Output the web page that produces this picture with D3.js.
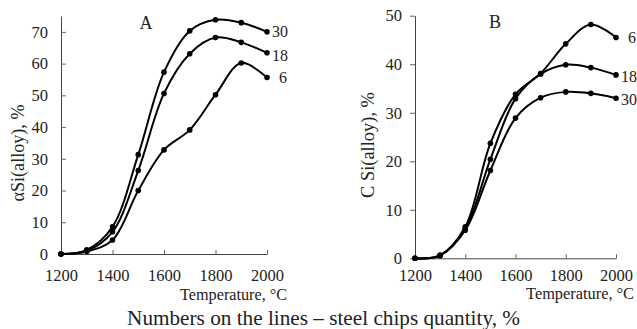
<!DOCTYPE html>
<html><head><meta charset="utf-8">
<script src="https://cdn.jsdelivr.net/npm/d3@7"></script>
<style>
body{margin:0;background:#fff;}
svg{display:block;}
text{font-family:"Liberation Serif","Times New Roman","DejaVu Serif",serif;fill:#222;}
</style></head>
<body>
<svg id="c" width="637" height="329"></svg>
<script>
const temps = [1200,1300,1400,1500,1600,1700,1800,1900,2000];
// Chart A: alpha Si(alloy), %
const a30 = [0,1.3,8.6,31.3,57.3,70.3,73.8,72.9,70.0];
const a18 = [0,1.0,7.0,26.3,50.6,63.1,68.2,66.7,63.4];
const a6  = [0,0.8,4.4,20.0,32.8,39.1,50.2,60.2,55.6];
// Chart B: C Si(alloy), %
const b6  = [0,0.6,6.5,23.7,33.8,38.1,44.2,48.2,45.5];
const b18 = [0,0.6,6.1,20.4,32.9,38.0,39.9,39.3,37.8];
const b30 = [0,0.6,5.8,18.1,28.9,33.1,34.3,34.0,33.0];
const xTicks = [1200,1400,1600,1800,2000];
const yTicksA = [0,10,20,30,40,50,60,70];
const yTicksB = [0,10,20,30,40,50];

const svg = d3.select("#c");

// scale a text's font size so that it spans a target width
function fit(sel, w){
  const n = sel.node();
  const fs = parseFloat(sel.style("font-size"));
  const len = n.getComputedTextLength();
  if(len>0) sel.style("font-size", (fs*w/len).toFixed(2)+"px");
  return sel;
}

function panel(cfg){
  const g = svg.append("g");
  const x = d3.scaleLinear().domain([1200,2000]).range(cfg.xr);
  const y = d3.scaleLinear().domain(cfg.yd).range(cfg.yr);
  const xa = g.append("g").attr("transform",`translate(0,${cfg.yr[0]})`)
    .call(d3.axisBottom(x).tickValues(xTicks).tickFormat(d3.format("d"))
      .tickSizeInner(-4).tickSizeOuter(0).tickPadding(cfg.xPad));
  xa.attr("font-family",null);
  xa.select(".domain").attr("stroke","#444");
  xa.selectAll(".tick line").attr("stroke","#666");
  xa.selectAll("text").style("font-size","16.5px").style("fill","#222");
  const ya = g.append("g").attr("transform",`translate(${cfg.xr[0]},0)`)
    .call(d3.axisLeft(y).tickValues(cfg.yt).tickFormat(d3.format("d"))
      .tickSizeInner(cfg.yIn?-5:5).tickSizeOuter(0).tickPadding(cfg.yIn?13:8));
  ya.attr("font-family",null);
  ya.select(".domain").attr("stroke","#444");
  ya.selectAll(".tick line").attr("stroke","#666");
  ya.selectAll("text").style("font-size","16.5px").style("fill","#222");
  const line = d3.line().x((d,i)=>x(temps[i])).y(d=>y(d)).curve(d3.curveCatmullRom.alpha(0.5));
  cfg.series.forEach(s=>{
    g.append("path").attr("d",line(s.v)).attr("fill","none").attr("stroke","#000").attr("stroke-width",2);
    g.selectAll(null).data(s.v).enter().append("circle")
      .attr("cx",(d,i)=>x(temps[i])).attr("cy",d=>y(d)).attr("r",2.8).attr("fill","#000");
    const n = s.v.length-1;
    g.append("text").attr("x",x(temps[n])+s.dx).attr("y",y(s.v[n])+s.dy)
      .attr("dominant-baseline","middle").style("font-size","16px").text(s.name);
  });
  return {g,x,y};
}

const A = panel({xr:[61,267], yr:[254,16], yd:[0,75], yt:yTicksA, yIn:true, xPad:15,
  series:[{v:a30,name:"30",dx:5,dy:1},{v:a18,name:"18",dx:5,dy:5},{v:a6,name:"6",dx:12,dy:2}]});
A.g.append("line").attr("x1",A.x(1900)).attr("y1",A.y(a18[7])).attr("x2",A.x(2000)).attr("y2",A.y(a18[8]))
  .attr("stroke","#000").attr("stroke-width",0.7);
A.g.append("text").attr("x",146).attr("y",29).attr("text-anchor","middle").style("font-size","18px").text("A");
fit(A.g.append("text").attr("transform","translate(24,153) rotate(-90)").attr("text-anchor","middle")
  .style("font-size","16.5px").text("αSi(alloy), %"), 97);
fit(A.g.append("text").attr("x",287).attr("y",300).attr("text-anchor","end").style("font-size","16px").text("Temperature, °C"), 107);

const B = panel({xr:[415,616], yr:[258.3,15.7], yd:[0,50], yt:yTicksB, yIn:false, xPad:11,
  series:[{v:b6,name:"6",dx:12,dy:2},{v:b18,name:"18",dx:5,dy:3},{v:b30,name:"30",dx:5,dy:3}]});
B.g.append("text").attr("x",495).attr("y",28).attr("text-anchor","middle").style("font-size","18px").text("B");
fit(B.g.append("text").attr("transform","translate(374,145) rotate(-90)").attr("text-anchor","middle")
  .style("font-size","17px").text("C Si(alloy), %"), 106);
fit(B.g.append("text").attr("x",634).attr("y",299).attr("text-anchor","end").style("font-size","16px").text("Temperature, °C"), 108);

fit(svg.append("text").attr("x",323.5).attr("y",325).attr("text-anchor","middle").style("font-size","21px")
  .text("Numbers on the lines – steel chips quantity, %"), 393);
</script>
</body></html>
